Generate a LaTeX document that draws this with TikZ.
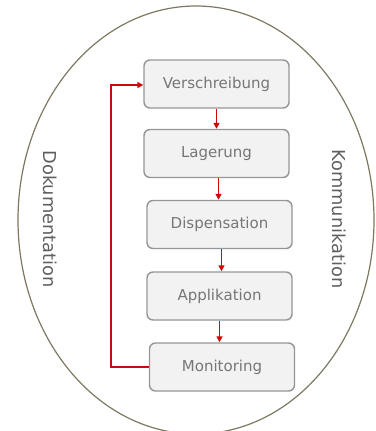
\documentclass[tikz,border=0pt]{standalone}
\usepackage{fontspec}
\setmainfont{DejaVu Sans}
\usetikzlibrary{arrows.meta}
\definecolor{boxfill}{RGB}{242,242,242}
\definecolor{boxline}{RGB}{150,150,150}
\definecolor{boxtext}{RGB}{118,118,118}
\definecolor{sidetext}{RGB}{95,95,95}
\definecolor{ringline}{RGB}{125,120,95}
\definecolor{flowred}{RGB}{205,10,10}
\begin{document}
\begin{tikzpicture}[x=1pt,y=-1pt,
  stepbox/.style={draw=boxline, line width=1.4pt, fill=boxfill, rounded corners=6pt,
    minimum width=145pt, minimum height=48pt, inner sep=0pt,
    font=\fontsize{15}{18}\selectfont, text=boxtext},
  sidelabel/.style={rotate=-90, font=\fontsize{17.8}{21}\selectfont, text=sidetext},
  flow/.style={draw=flowred, line width=1.8pt, -{Triangle[length=6pt,width=6pt]}}]
\useasboundingbox (0,0) rectangle (375,431);
\clip (0,0) rectangle (375,431);
\draw[ringline, line width=1.2pt] (196,220) ellipse [x radius=178, y radius=214];
\node[stepbox] (v) at (216.5,84) {Verschreibung};
\node[stepbox] (l) at (216.5,153.5) {Lagerung};
\node[stepbox] (d) at (219.5,224.5) {Dispensation};
\node[stepbox] (a) at (219.5,296) {Applikation};
\node[stepbox] (m) at (222,367) {Monitoring};
\node[sidelabel] (dok) at (50,219) {Dokumentation};
\node[sidelabel] (kom) at (339,219) {Kommunikation};
\draw[flow] (v.south) -- (v.south |- l.north);
\draw[flow] ([xshift=2pt]l.south) -- ([xshift=2pt]l.south |- d.north);
\draw[flow] ([xshift=2pt]d.south) -- ([xshift=2pt]d.south |- a.north);
\draw[flow] (a.south) -- (a.south |- m.north);
\coordinate (c1) at (111,367);
\coordinate (c2) at (111,85);
\draw[flow] (m.west |- 0,367) -- (c1) -- (c2) -- (v.west |- 0,85);
\end{tikzpicture}
\end{document}
